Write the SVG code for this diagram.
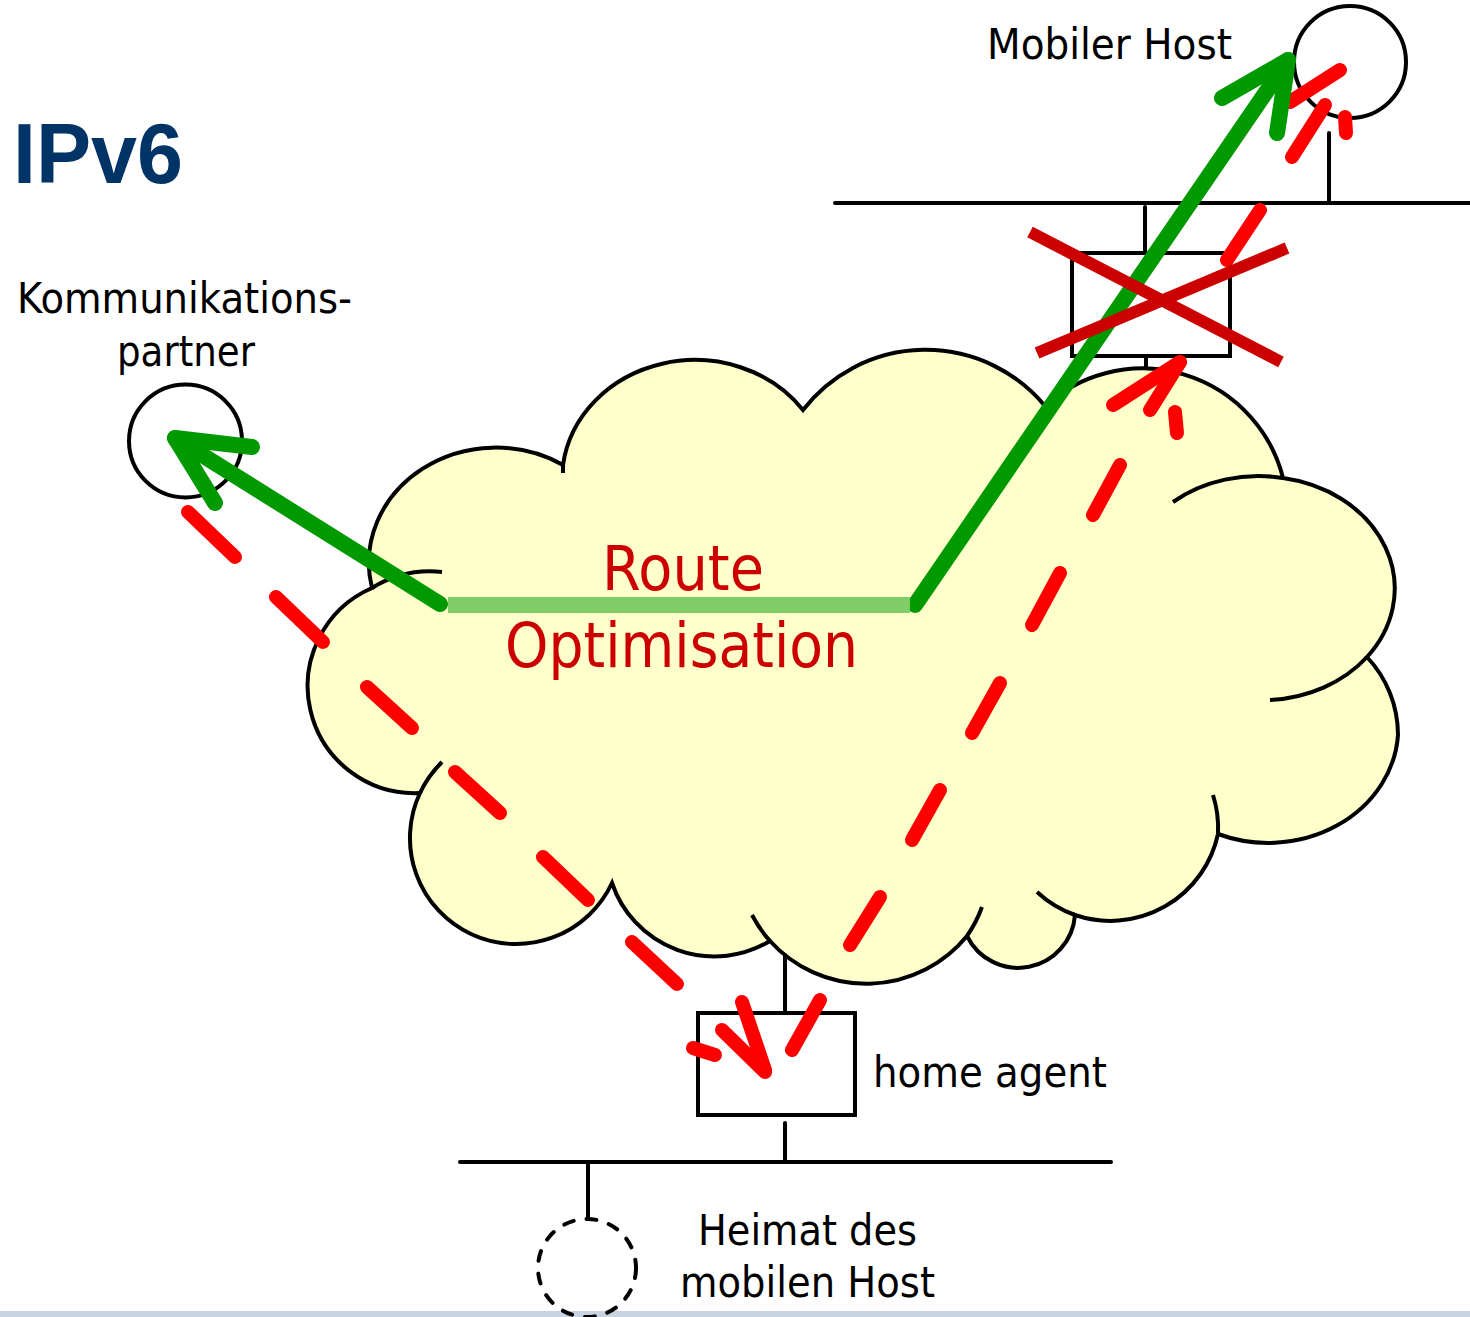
<svg xmlns="http://www.w3.org/2000/svg" width="1470" height="1317" viewBox="0 0 1470 1317">
<style>
.ln{stroke:#000;stroke-width:4;fill:none;stroke-linecap:round}
.bx{stroke:#000;stroke-width:4;fill:#fff;stroke-linejoin:miter}
.cl{stroke:#000;stroke-width:4;fill:none}
.lbl{font-family:"DejaVu Sans","Liberation Sans",sans-serif;font-size:43px;fill:#000}
.ro{font-family:"DejaVu Sans","Liberation Sans",sans-serif;font-size:63px;fill:#cc0000}
.rd{stroke:#ff0000;stroke-width:14;stroke-linecap:round;fill:none}
.gr{stroke:#009900;stroke-width:16;fill:none;stroke-linecap:round;stroke-linejoin:round}
.x{stroke:#cc0000;stroke-width:12;fill:none}
</style>
<rect x="0" y="0" width="1470" height="1317" fill="#fff"/>
<rect x="0" y="1311" width="1470" height="6" fill="#c9d4e2"/>

<g id="title"><text x="13" y="183" font-family="'Liberation Sans',Arial,sans-serif" font-weight="bold" font-size="86" fill="#003366" textLength="170" lengthAdjust="spacingAndGlyphs">IPv6</text></g>

<g id="net-top">
<line class="ln" x1="835" y1="203" x2="1472" y2="203"/>
<line class="ln" x1="1329" y1="133" x2="1329" y2="203"/>
</g>
<g id="router">
<line class="ln" x1="1145" y1="207" x2="1145" y2="252"/>
<rect class="bx" x="1072" y="253" width="158" height="103"/>
<line class="ln" x1="1146" y1="356" x2="1146" y2="378"/>
</g>
<g id="mobile-host">
<circle cx="1350" cy="62" r="56" fill="none" stroke="#000" stroke-width="4"/>
<text class="lbl" x="987" y="59" textLength="245" lengthAdjust="spacingAndGlyphs">Mobiler Host</text>
</g>
<g id="partner">
<circle cx="185.5" cy="441" r="56.5" fill="none" stroke="#000" stroke-width="4"/>
<text class="lbl" x="17" y="313" textLength="335" lengthAdjust="spacingAndGlyphs">Kommunikations-</text>
<text class="lbl" x="117" y="366" textLength="138" lengthAdjust="spacingAndGlyphs">partner</text>
</g>
<g id="net-bottom">
<line class="ln" x1="460" y1="1162" x2="1111" y2="1162"/>
<line class="ln" x1="785" y1="1123" x2="785" y2="1162"/>
<line class="ln" x1="588" y1="1162" x2="588" y2="1219"/>
</g>
<g id="home">
<circle cx="587" cy="1268" r="49" fill="none" stroke="#000" stroke-width="4" stroke-dasharray="10 13" stroke-linecap="round"/>
<text class="lbl" x="698" y="1245" textLength="219" lengthAdjust="spacingAndGlyphs">Heimat des</text>
<text class="lbl" x="680" y="1297" textLength="255" lengthAdjust="spacingAndGlyphs">mobilen Host</text>
</g>

<g id="cloud">
<path fill="#ffffcc" stroke="#000" stroke-width="4" stroke-linejoin="miter" d="M372,588 A127,115 0 0 1 563,465 A133,120 0 0 1 803,410 A155,155 0 0 1 1045,406 A145,145 0 0 1 1283,478 A133,112 0 0 1 1367,657 A114,114 0 0 1 1398,735 A130,115 0 0 1 1218,834 A110,110 0 0 1 1075,915 A57,57 0 0 1 967,936 A130,130 0 0 1 770,941 A108,108 0 0 1 612,883 A106,106 0 1 1 420,793 A107,107 0 0 1 372,588 Z"/>
<path class="cl" d="M372,588 A110,110 0 0 1 442,572"/>
<path class="cl" d="M1173,502 A133,112 0 0 1 1283,478"/>
<path class="cl" d="M1367,657 A133,112 0 0 1 1270,700"/>
<path class="cl" d="M1213,795 A110,110 0 0 1 1218,834"/>
<path class="cl" d="M1075,915 A110,110 0 0 1 1037,892"/>
<path class="cl" d="M982,907 A130,130 0 0 1 967,936"/>
<path class="cl" d="M770,941 A130,130 0 0 1 752,915"/>
<path class="cl" d="M420,793 A106,106 0 0 1 442,762"/>
<path class="cl" d="M563,473 L563,465"/>
<text class="ro" x="602" y="590" textLength="162" lengthAdjust="spacingAndGlyphs">Route</text>
<text class="ro" x="505" y="667" textLength="353" lengthAdjust="spacingAndGlyphs">Optimisation</text>
</g>

<g id="home-agent">
<line class="ln" x1="785" y1="955" x2="785" y2="1013"/>
<rect class="bx" x="698" y="1013" width="157" height="102"/>
<text class="lbl" x="873" y="1087" textLength="234" lengthAdjust="spacingAndGlyphs">home agent</text>
</g>

<g id="connectors">
<g id="triangle-route">
<line class="rd" x1="188" y1="512" x2="235" y2="557"/>
<line class="rd" x1="276" y1="597" x2="323" y2="642"/>
<line class="rd" x1="367" y1="687" x2="412" y2="728"/>
<line class="rd" x1="455" y1="772" x2="500" y2="813"/>
<line class="rd" x1="543" y1="857" x2="588" y2="900"/>
<line class="rd" x1="632" y1="942" x2="677" y2="984"/>
<line class="rd" x1="722" y1="1030" x2="765" y2="1072"/>
<line class="rd" x1="742" y1="1002" x2="765" y2="1070"/>
<line class="rd" x1="693" y1="1048" x2="715" y2="1055"/>
<line class="rd" x1="792" y1="1050" x2="820" y2="1000"/>
<line class="rd" x1="850" y1="945" x2="880" y2="897"/>
<line class="rd" x1="912" y1="840" x2="940" y2="790"/>
<line class="rd" x1="972" y1="733" x2="1000" y2="683"/>
<line class="rd" x1="1032" y1="625" x2="1060" y2="573"/>
<line class="rd" x1="1093" y1="515" x2="1120" y2="465"/>
<line class="rd" x1="1150" y1="410" x2="1180" y2="362"/>
<line class="rd" x1="1113" y1="405" x2="1180" y2="362"/>
<line class="rd" x1="1175" y1="412" x2="1177" y2="433"/>
<line class="rd" x1="1227" y1="260" x2="1260" y2="210"/>
<line class="rd" x1="1292" y1="157" x2="1325" y2="105"/>
<line class="rd" x1="1340" y1="70" x2="1290" y2="102"/>
<line class="rd" x1="1345" y1="117" x2="1346" y2="133"/>
</g>
<g id="optimised-route">
<path class="gr" d="M440,604 L175,438"/>
<path class="gr" d="M252,447 L175,438 L215,503"/>
<path class="gr" d="M915,605 L1288,60"/>
<path class="gr" d="M1222,98 L1288,60 L1277,133"/>
<line x1="448" y1="605" x2="910" y2="605" stroke="#80cc66" stroke-width="16"/>
</g>
<g id="cross">
<line class="x" x1="1030" y1="232" x2="1281" y2="362"/>
<line class="x" x1="1037" y1="353" x2="1287" y2="248"/>
</g>
</g>
</svg>
